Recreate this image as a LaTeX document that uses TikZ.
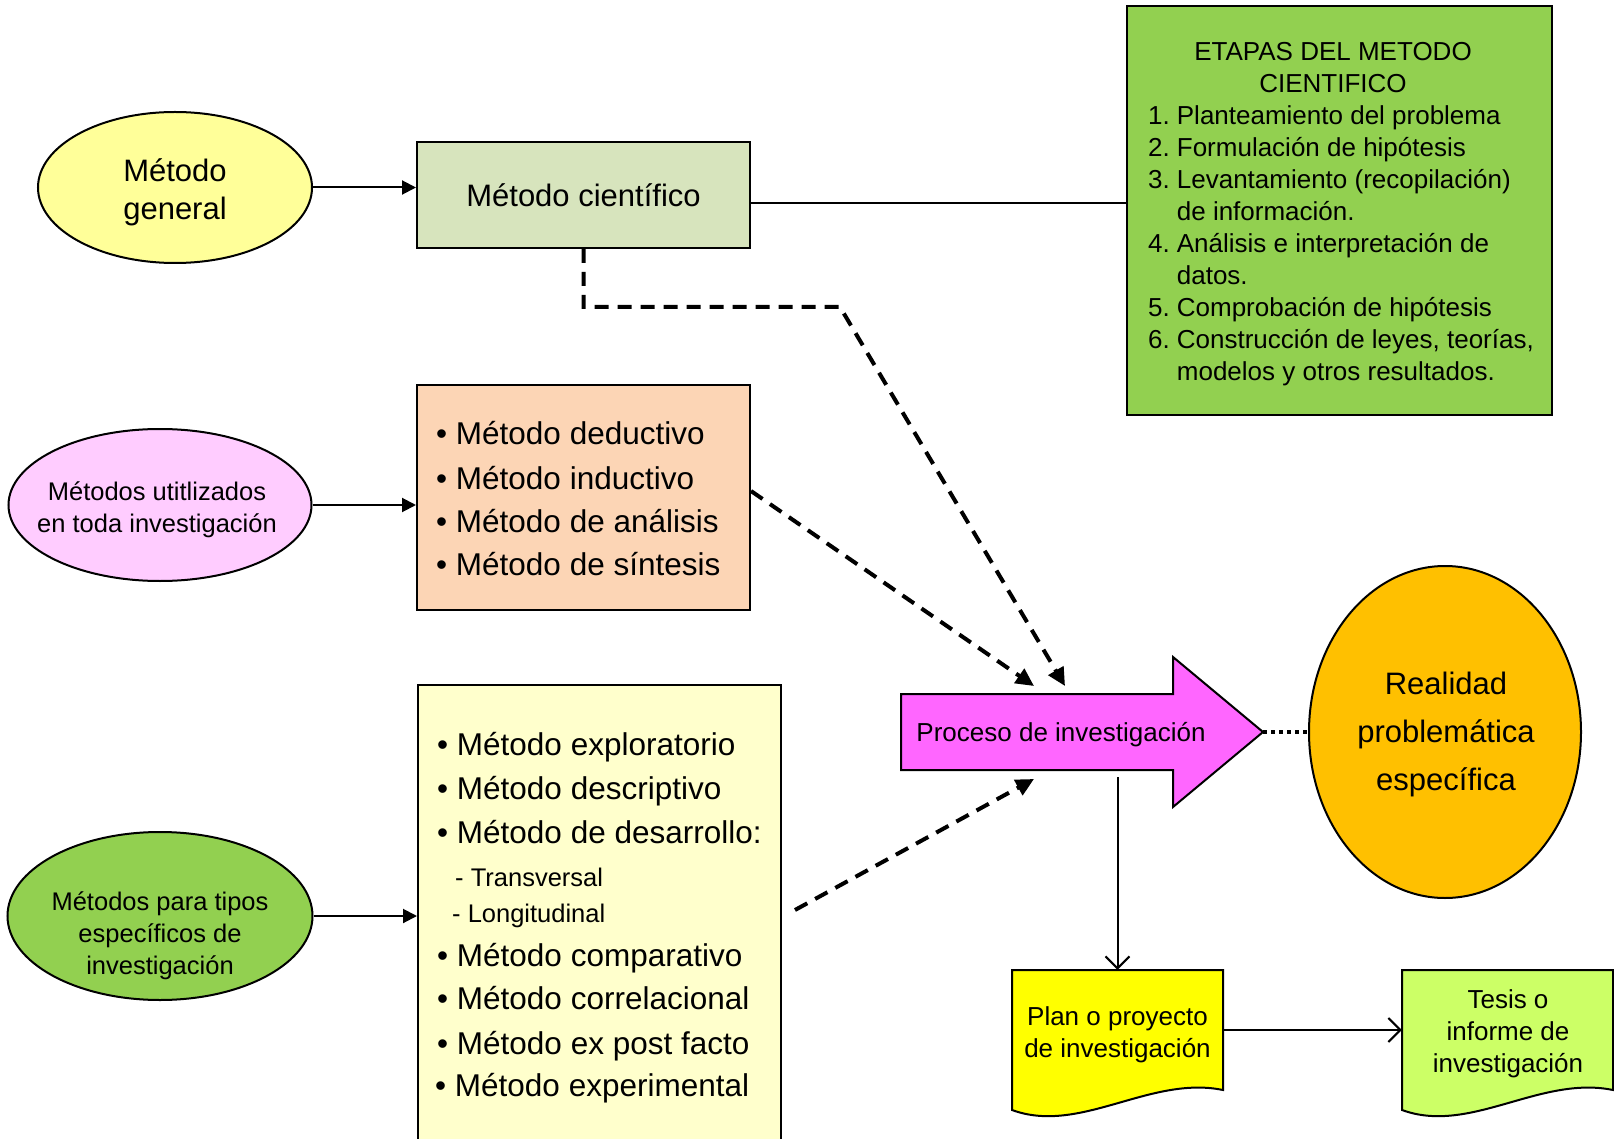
\documentclass[tikz,border=0pt]{standalone}
\usepackage{fontspec}
\setmainfont{Liberation Sans}
\usetikzlibrary{shapes.geometric,arrows.meta}
\definecolor{cYel}{HTML}{FFFF99}
\definecolor{cSci}{HTML}{D7E4BD}
\definecolor{cGrn}{HTML}{92D050}
\definecolor{cPnk}{HTML}{FFCCFF}
\definecolor{cPch}{HTML}{FCD5B5}
\definecolor{cLYel}{HTML}{FFFFCC}
\definecolor{cMag}{HTML}{FF66FF}
\definecolor{cOra}{HTML}{FFC000}
\definecolor{cDocY}{HTML}{FFFF00}
\definecolor{cLime}{HTML}{CCFF66}
\newcommand\myfs[2]{\fontsize{#1}{#2}\selectfont}
\begin{document}
\begin{tikzpicture}[x=1pt,y=-1pt,
  shp/.style={draw=black,line width=2pt},
  ell/.style={shp,ellipse,inner sep=0pt,align=center},
  box/.style={shp,rectangle,inner sep=0pt},
  txt/.style={inner sep=0pt,align=center},
  lin/.style={inner sep=0pt,anchor=base west},
  ln/.style={line width=2pt},
  conn/.style={line width=2pt,-{Triangle[length=14pt,width=14pt]}},
  dsh/.style={line width=4pt,dash pattern=on 14pt off 9pt,-{Triangle[length=18pt,width=17pt]}},
  opn/.style={line width=2pt,-{Straight Barb[length=12pt,width=24pt]}},
]
\useasboundingbox (0,0) rectangle (1614,1139);
\clip (0,0) rectangle (1614,1139);

% left ellipses
\node[ell,fill=cYel,minimum width=274,minimum height=151] (mg) at (175,187.5) {};
\node[txt,font=\myfs{31}{38}] (mgt) at (175,192) {Método\\general};
\node[ell,fill=cPnk,minimum width=303,minimum height=152] (mu) at (160,505) {};
\node[txt,font=\myfs{25.5}{32}] (mut) at (157,510) {Métodos utitlizados\\en toda investigación};
\node[ell,fill=cGrn,minimum width=305,minimum height=168] (mt) at (160,916) {};
\node[txt,font=\myfs{25.5}{32}] (mtt) at (160,936) {Métodos para tipos\\específicos de\\investigación};

% boxes
\node[box,fill=cSci,minimum width=333,minimum height=106,font=\myfs{31}{38}] (mc) at (583.5,195) {Método científico};
\node[box,fill=cGrn,minimum width=425,minimum height=409] (et) at (1339.5,210.5) {};
\node[txt,font=\myfs{26}{32}] (ett) at (1333,68) {ETAPAS DEL METODO\\CIENTIFICO};
\node[inner sep=0pt,anchor=north west,font=\myfs{26}{32}] (etl) at (1148,101.6) {%
\begin{tabular}{@{}l@{\hspace{7pt}}l@{}}
1. & Planteamiento del problema\\
2. & Formulación de hipótesis\\
3. & Levantamiento (recopilación)\\
   & de información.\\
4. & Análisis e interpretación de\\
   & datos.\\
5. & Comprobación de hipótesis\\
6. & Construcción de leyes, teorías,\\
   & modelos y otros resultados.
\end{tabular}};

\node[box,fill=cPch,minimum width=333,minimum height=225] (mb) at (583.5,497.5) {};
\node[lin,font=\myfs{31.5}{36}] (p1) at (436,444) {• Método deductivo};
\node[lin,font=\myfs{31.5}{36}] (p2) at (436,489) {• Método inductivo};
\node[lin,font=\myfs{31.5}{36}] (p3) at (436,532) {• Método de análisis};
\node[lin,font=\myfs{31.5}{36}] (p4) at (436,575) {• Método de síntesis};

\node[box,fill=cLYel,minimum width=363,minimum height=480,anchor=north west] (my) at (417,684) {};
\node[lin,font=\myfs{31.5}{36}] (y1) at (437,755) {• Método exploratorio};
\node[lin,font=\myfs{31.5}{36}] (y2) at (437,799) {• Método descriptivo};
\node[lin,font=\myfs{31.5}{36}] (y3) at (437,843) {• Método de desarrollo:};
\node[lin,font=\myfs{25.5}{32}] (y4) at (455,886) {- Transversal};
\node[lin,font=\myfs{25.5}{32}] (y5) at (452,922) {- Longitudinal};
\node[lin,font=\myfs{31.5}{36}] (y6) at (437,966) {• Método comparativo};
\node[lin,font=\myfs{31.5}{36}] (y7) at (437,1009) {• Método correlacional};
\node[lin,font=\myfs{31.5}{36}] (y8) at (437,1054) {• Método ex post facto};
\node[lin,font=\myfs{31.5}{36}] (y9) at (435,1096) {• Método experimental};

% process arrow
\path[shp,fill=cMag] (901,694) -- (1173,694) -- (1173,657) -- (1263,732) -- (1173,807) -- (1173,770) -- (901,770) -- cycle;
\coordinate (tip) at (1263,732);
\node[txt,font=\myfs{26}{32}] (pi) at (1061,735) {Proceso de investigación};

% orange ellipse
\node[ell,fill=cOra,minimum width=272,minimum height=332] (rp) at (1445,732) {};
\node[txt,font=\myfs{31}{48}] (rpt) at (1446,734) {Realidad\\problemática\\específica};

% documents
\path[shp,fill=cDocY] (1012,970) -- (1223,970) -- (1223,1090) .. controls (1150,1075) and (1080,1135) .. (1012,1110) -- cycle;
\path[shp,fill=cLime] (1402,970) -- (1613,970) -- (1613,1090) .. controls (1540,1075) and (1470,1135) .. (1402,1110) -- cycle;
\node[txt,minimum width=211,minimum height=120] (pl) at (1117.5,1030) {};
\node[txt,font=\myfs{26}{32}] (plt) at (1117.5,1035) {Plan o proyecto\\de investigación};
\node[txt,minimum width=211,minimum height=120] (ts) at (1507.5,1030) {};
\node[txt,font=\myfs{26}{32}] (tst) at (1508,1034) {Tesis o\\informe de\\investigación};

% connectors
\draw[conn] (mg.east) -- (mg.east -| mc.west);
\draw[conn] (mu.east) -- (mu.east -| mb.west);
\draw[conn] (mt.east) -- (mt.east -| my.west);
\draw[ln] ([yshift=-8pt]mc.east) -- ([yshift=-8pt]mc.east -| et.west);

\coordinate (bend) at (840,307);
\coordinate (d1) at (1065,686);
\coordinate (d2) at (1034,686);
\coordinate (d3) at (1034,779);
\coordinate (d3s) at (795,910);
\draw[dsh] (mc.south) -- (mc.south |- bend) -- (bend) -- (d1);
\draw[dsh] ([yshift=6.5pt]mb.east) -- (d2);
\draw[dsh] (d3s) -- (d3);
\draw[line width=3.5pt,dash pattern=on 4pt off 4pt] (tip) -- (rp.west);

\coordinate (vs) at (1117.5,777);
\draw[opn] (vs) -- (pl.north);
\draw[opn] (pl.east) -- (ts.west);
\end{tikzpicture}
\end{document}
